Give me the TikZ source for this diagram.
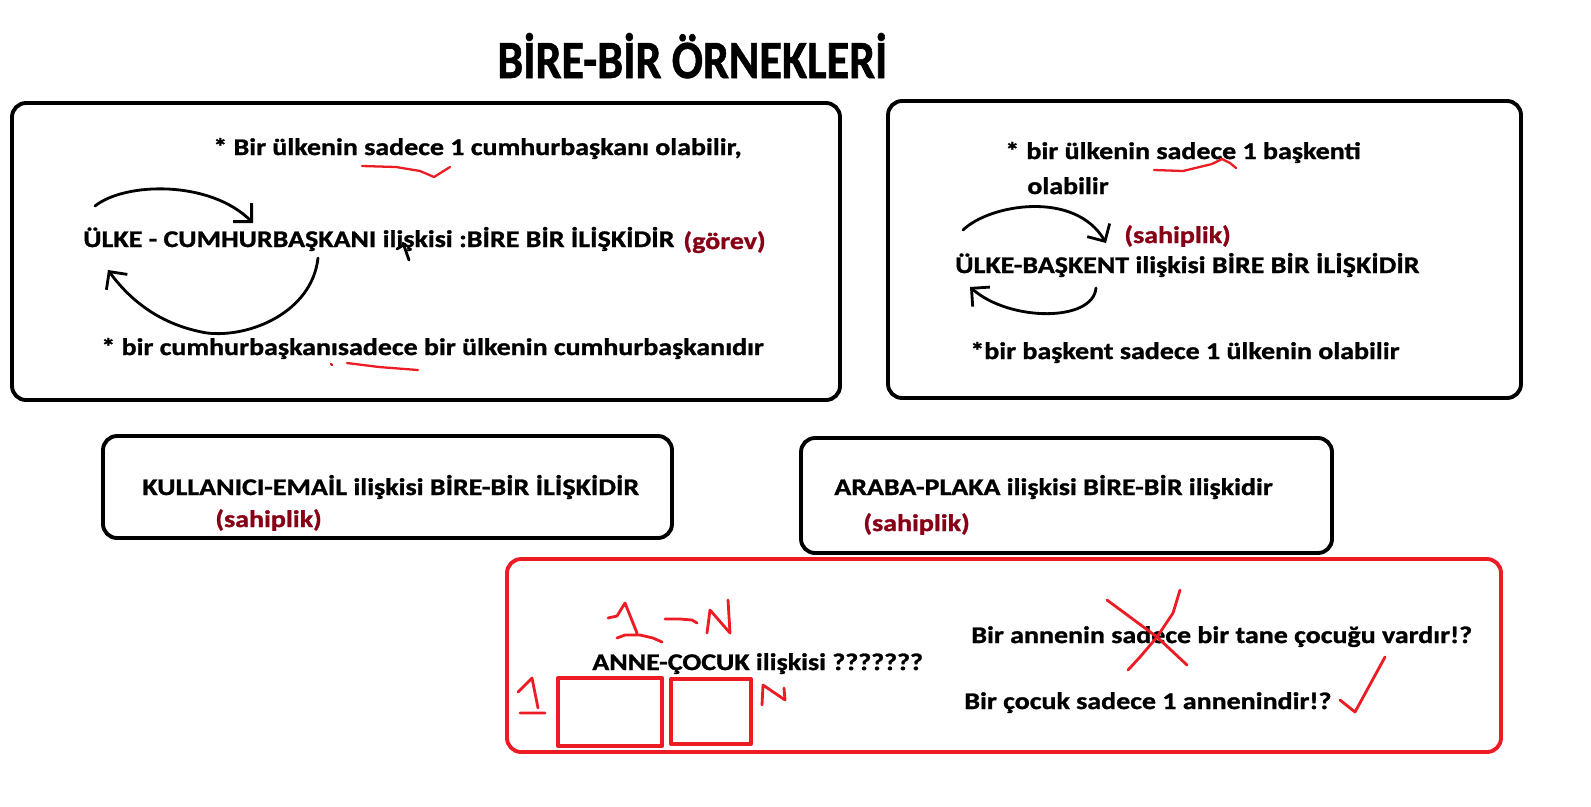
\documentclass[tikz,border=0pt]{standalone}
\usepackage{fontspec}
\usepackage{graphicx}
\setmainfont{Carlito}[FakeStretch=1.17,BoldFeatures={FakeBold=1.2}]
\newfontfamily\titlefont{Carlito}[BoldFeatures={FakeBold=1.2}]
\usepackage{tikz}
\usetikzlibrary{arrows.meta}
\definecolor{paintred}{HTML}{ED1C24}
\definecolor{darkred}{HTML}{880015}
\tikzset{
  txt/.style={anchor=base west,inner sep=0pt,font=\fontsize{13.6}{16}\selectfont\bfseries},
  tag/.style={txt,text=darkred},
  panel/.style={draw,line width=2.2pt,rounded corners=8pt},
  redpanel/.style={panel,draw=paintred},
  hand/.style={line width=1.6pt,line cap=round,line join=round},
  redhand/.style={hand,draw=paintred},
  underl/.style={redhand,line width=1.3pt},
  barb/.style={-{Straight Barb[length=2.6mm,width=5.2mm]}}
}

\begin{document}
\begin{tikzpicture}[x=0.02cm,y=-0.02cm]
  \useasboundingbox (0,0) rectangle (1591,806);

  \node[anchor=base west,inner sep=0pt] (title) at (497,78)
    {\resizebox{7.8cm}{0.9cm}{\titlefont\bfseries BİRE-BİR ÖRNEKLERİ}};

  % panels
  \draw[panel] (12,103) rectangle (840,400);
  \draw[panel] (888,101) rectangle (1521,398);
  \draw[panel] (103,436) rectangle (672,538);
  \draw[panel] (801,438) rectangle (1332,553);
  \draw[redpanel] (507,559) rectangle (1501,752);

  % ulke - cumhurbaskani
  \node[txt] (cb1) at (213,155) {* Bir ülkenin sadece 1 cumhurbaşkanı olabilir,};
  \node[txt] (cbrel) at (83,247) {ÜLKE - CUMHURBAŞKANI ilişkisi :BİRE BİR İLİŞKİDİR};
  \node[tag] (gorev) at (683,249) {(görev)};
  \node[txt] (cb2) at (101,355) {* bir cumhurbaşkanısadece bir ülkenin cumhurbaşkanıdır};

  \coordinate (cbtop) at (95,206);
  \coordinate (cbtip) at (253,223);
  \coordinate (cbbot) at (318,258);
  \coordinate (cbback) at (108,270);
  \draw[hand,barb] (cbtop) .. controls (125,182) and (210,180) .. (cbtip);
  \draw[hand,barb] (cbbot) .. controls (312,312) and (250,338) .. (207,333)
    .. controls (160,325) and (130,300) .. (cbback);
  \draw[hand] (397,249) -- (405,244) (403,243) -- (409,260);

  \draw[underl] (362,166) -- (396,167) -- (420,171) -- (434,177) -- (450,167);
  \draw[underl] (331,364) -- (332,365) (347,363) -- (379,367) -- (418,370);

  % ulke - baskent
  \node[txt] (bk1) at (1005,159) {*\hspace{0.3em}bir ülkenin sadece 1 başkenti};
  \node[txt] (bk1b) at (1027,194) {olabilir};
  \node[tag] (sah1) at (1124,243) {(sahiplik)};
  \node[txt] (bkrel) at (955,273) {ÜLKE-BAŞKENT ilişkisi BİRE BİR İLİŞKİDİR};
  \node[txt] (bk2) at (970,359) {*bir başkent sadece 1 ülkenin olabilir};

  \coordinate (bktop) at (963,230);
  \coordinate (bktip) at (1106,243);
  \coordinate (bkbot) at (1096,288);
  \coordinate (bkback) at (970,287);
  \draw[hand,barb] (bktop) .. controls (990,204) and (1075,190) .. (bktip);
  \draw[hand,barb] (bkbot) .. controls (1093,322) and (1010,322) .. (bkback);

  \draw[underl] (1154,170) -- (1183,171) -- (1212,164) -- (1222,159) -- (1230,163) -- (1236,168);

  % kullanici - email, araba - plaka
  \node[txt] (email) at (142,495) {KULLANICI-EMAİL ilişkisi BİRE-BİR İLİŞKİDİR};
  \node[tag] (sah2) at (215,527) {(sahiplik)};
  \node[txt] (plaka) at (834,495) {ARABA-PLAKA ilişkisi BİRE-BİR ilişkidir};
  \node[tag] (sah3) at (863,531) {(sahiplik)};

  % anne - cocuk
  \node[txt] (anne) at (592,670) {ANNE-ÇOCUK ilişkisi ???????};
  \node[txt] (q1) at (971,643) {Bir annenin sadece bir tane çocuğu vardır!?};
  \node[txt] (q2) at (964,709) {Bir çocuk sadece 1 annenindir!?};

  \draw[redhand] (608,618) -- (617,616) -- (625,603) -- (633,623) -- (637,633)
    (617,638) -- (625,635) -- (640,635) -- (653,638) -- (662,642);
  \draw[redhand] (665,619) -- (680,619) -- (692,620) -- (697,623);
  \draw[redhand] (707,633) -- (710,610) -- (730,633) -- (728,600);
  \draw[redhand] (518,692) -- (532,678) -- (538,708) (520,713) -- (545,713);
  \draw[redhand,line width=2.3pt] (558,678) rectangle (662,746);
  \draw[redhand,line width=2.3pt] (671,679) rectangle (751,744);
  \draw[redhand] (762,705) -- (763,685) -- (785,700) -- (784,688);
  \draw[redhand] (1107,600) -- (1157,637) -- (1187,665)
    (1180,590) -- (1173,613) -- (1157,637) -- (1140,657) -- (1128,670);
  \draw[redhand] (1340,700) -- (1355,712) -- (1385,657);
\end{tikzpicture}
\end{document}
